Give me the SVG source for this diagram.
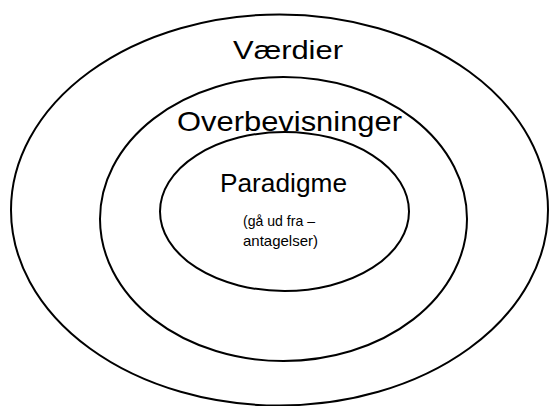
<svg xmlns="http://www.w3.org/2000/svg" width="551" height="406" viewBox="0 0 551 406">
<style>
.ring{fill:none;stroke:#000;stroke-width:2}
.lbl{font-family:"Liberation Sans",Arial,sans-serif;fill:#000;text-anchor:middle}
.small{font-size:15px}
</style>
<rect width="551" height="406" fill="#fff"/>
<g id="vaerdier">
<ellipse class="ring" cx="279.5" cy="210" rx="268.5" ry="195.5"/>
<text class="lbl" x="288" y="59" font-size="25" textLength="110" lengthAdjust="spacingAndGlyphs">Værdier</text>
</g>
<g id="overbevisninger">
<ellipse class="ring" cx="283.5" cy="219" rx="183.5" ry="142"/>
<text class="lbl" x="289.5" y="131" font-size="28" textLength="225" lengthAdjust="spacingAndGlyphs">Overbevisninger</text>
</g>
<g id="paradigme">
<ellipse class="ring" cx="284.5" cy="211.5" rx="124.5" ry="79.5"/>
<text class="lbl" x="283.5" y="192" font-size="25" textLength="127" lengthAdjust="spacingAndGlyphs">Paradigme</text>
<text class="lbl small" x="279" y="226" textLength="72" lengthAdjust="spacingAndGlyphs">(gå ud fra –</text>
<text class="lbl small" x="280.5" y="246">antagelser)</text>
</g>
<g id="connectors"></g>
</svg>
